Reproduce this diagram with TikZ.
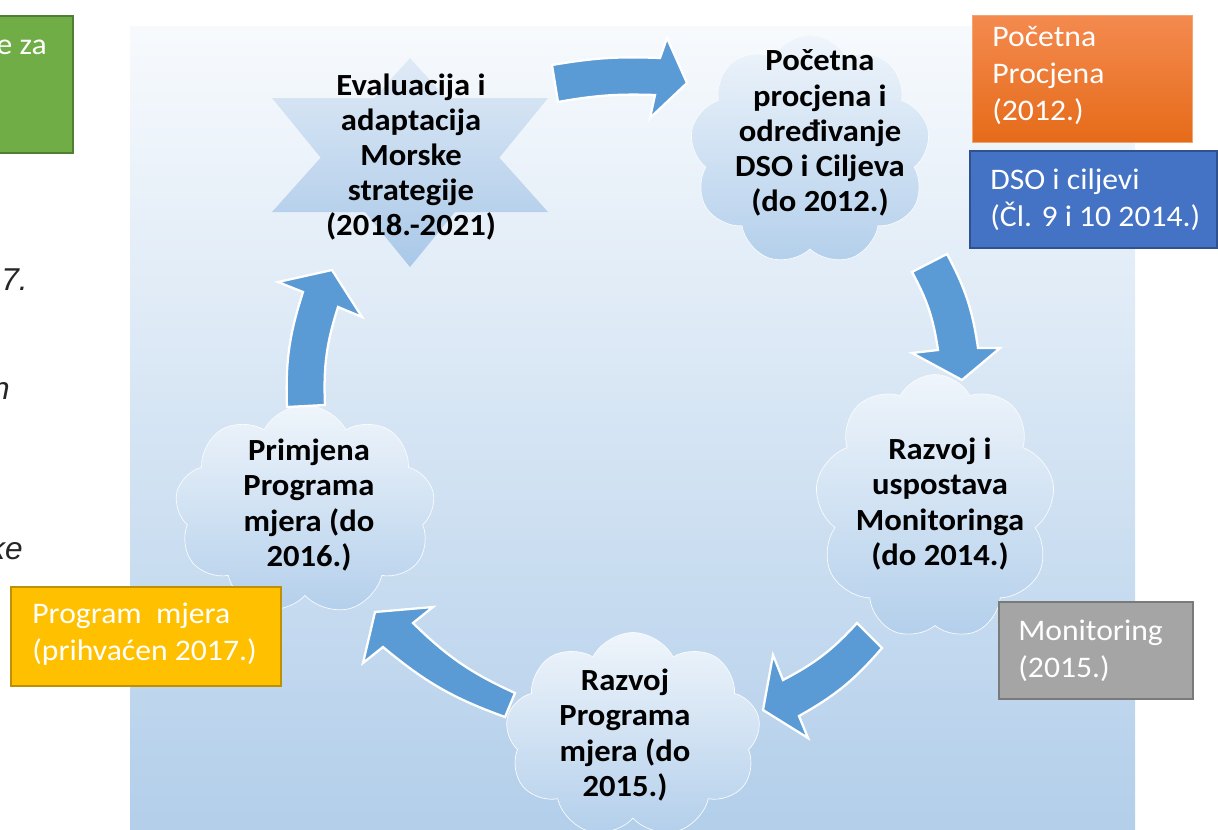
\documentclass[tikz,border=0pt]{standalone}
\usepackage{fontspec}
\setmainfont{Carlito}[FakeStretch=1.06]
\newfontfamily\arialfont{Liberation Sans}
\usetikzlibrary{shapes.symbols,positioning}

\definecolor{bgtop}{HTML}{F7FAFD}
\definecolor{bgbot}{HTML}{B2CEEA}
\definecolor{cloudtop}{HTML}{EFF5FB}
\definecolor{cloudbot}{HTML}{B3CFEB}
\definecolor{startop}{HTML}{DFEAF6}
\definecolor{starbot}{HTML}{A9C8E8}
\definecolor{arrowblue}{HTML}{5B9BD5}
\definecolor{otop}{HTML}{F48A4F}
\definecolor{obot}{HTML}{E56B19}
\definecolor{oline}{HTML}{F4A473}
\definecolor{dsoblue}{HTML}{4472C4}
\definecolor{dsoline}{HTML}{2F528F}
\definecolor{mgrey}{HTML}{A5A5A5}
\definecolor{mline}{HTML}{7A7A7A}
\definecolor{pyellow}{HTML}{FFC000}
\definecolor{pline}{HTML}{BF9000}
\definecolor{sgreen}{HTML}{70AD47}
\definecolor{sline}{HTML}{507E32}

\tikzset{
	cloudbox/.style={cloud, cloud puffs=9, cloud puff arc=125, aspect=1, inner sep=0pt,
		top color=cloudtop, bottom color=cloudbot, draw=white!60!cloudtop, line width=0.4pt},
	cloudtext/.style={font=\bfseries\fontsize{17.5}{20}\selectfont, align=center, inner sep=0pt},
	blockarrow/.style={fill=arrowblue, draw=white, line width=1.3pt, line join=miter},
	colbox/.style={rectangle, anchor=north west, inner sep=0pt, line width=1.2pt},
	boxtext/.style={font=\fontsize{17}{21}\selectfont, text=white, align=left, anchor=west, inner sep=0pt},
	cuttext/.style={font=\arialfont\itshape\fontsize{18}{21}\selectfont, text=black!85, anchor=east, inner sep=0pt}
}

\begin{document}
\begin{tikzpicture}[x=0.02cm,y=-0.02cm]
	\useasboundingbox (0,0) rectangle (1218,829);
	\clip (0,0) rectangle (1218,829);
	% background panel
	\shade[top color=bgtop, bottom color=bgbot] (130,26) rectangle (1135,840);

	% clouds of the cycle
	\node[cloudbox, minimum width=4.8cm, minimum height=4.6cm] (initcloud) at (810,150) {};
	\node[cloudbox, minimum width=4.8cm, minimum height=5.3cm] (moncloud) at (935,507) {};
	\node[cloudbox, minimum width=5.1cm, minimum height=4.1cm] (progcloud) at (633,735) {};
	\node[cloudbox, minimum width=5.2cm, minimum height=4.2cm] (implcloud) at (305,510) {};

	% six-pointed star
	\shade[top color=startop, bottom color=starbot]
		(410,58) -- (548,212) -- (272,212) -- cycle
		(410,267) -- (272,98) -- (548,98) -- cycle;

	% curved block arrows
	\draw[blockarrow] (552,65) to[bend left=6] (660,58) -- (667,38) -- (687,83) -- (650,118)
		-- (655,95) to[bend right=6] (558,102) -- cycle;
	\draw[blockarrow] (912,272) to[bend left=10] (938,350) -- (912,353) -- (962,380) -- (1000,348)
		-- (978,348) to[bend right=10] (947,254) -- cycle;
	\draw[blockarrow] (857,623) to[bend left=10] (783,680) -- (773,655) -- (763,710) -- (808,738)
		-- (799,716) to[bend right=10] (882,648) -- cycle;
	\draw[blockarrow] (515,693) to[bend left=10] (413,623) -- (433,607) -- (375,612) -- (363,663)
		-- (383,647) to[bend right=10] (505,717) -- cycle;
	\draw[blockarrow] (325,405) to[bend left=10] (338,307) -- (362,317) -- (332,270) -- (278,282)
		-- (303,292) to[bend right=10] (287,407) -- cycle;

	% texts of the cycle
	\node[cloudtext] (evaltxt) at (411,157) {Evaluacija i\\adaptacija\\Morske\\strategije\\(2018.-2021)};
	\node[cloudtext] (inittxt) at (820,133) {Početna\\procjena i\\određivanje\\DSO i Ciljeva\\(do 2012.)};
	\node[cloudtext] (montxt) at (940,504) {Razvoj i\\uspostava\\Monitoringa\\(do 2014.)};
	\node[cloudtext] (progtxt) at (625,735) {Razvoj\\Programa\\mjera (do\\2015.)};
	\node[cloudtext] (impltxt) at (309,505) {Primjena\\Programa\\mjera (do\\2016.)};

	% coloured boxes
	\node[colbox, fill=sgreen, draw=sline, minimum width=2.4cm, minimum height=2.74cm] (greenbox) at (-48,15) {};
	\node[boxtext, anchor=east] (greentxt) at (47,47) {e za};
	\node[colbox, top color=otop, bottom color=obot, draw=oline, line width=0.6pt,
		minimum width=4.4cm, minimum height=2.54cm] (initbox) at (972,15) {};
	\node[boxtext] (initboxtxt) at ([xshift=0.4cm,yshift=0.07cm]initbox.west) {Početna\\Procjena\\(2012.)};
	\node[colbox, fill=dsoblue, draw=dsoline, minimum width=4.94cm, minimum height=1.94cm] (dsobox) at (969,150) {};
	\node[boxtext] (dsoboxtxt) at ([xshift=0.42cm]dsobox.west) {DSO i ciljevi\\(Čl. 9 i 10 2014.)};
	\node[colbox, fill=mgrey, draw=mline, minimum width=3.88cm, minimum height=1.94cm] (monbox) at (998,601) {};
	\node[boxtext] (monboxtxt) at ([xshift=0.4cm]monbox.west) {Monitoring\\(2015.)};
	\node[colbox, fill=pyellow, draw=pline, minimum width=5.4cm, minimum height=1.98cm] (progbox) at (10,586) {};
	\node[boxtext] (progboxtxt) at ([xshift=0.44cm,yshift=0.05cm]progbox.west) {Program\ \ mjera\\(prihvaćen 2017.)};

	% cut-off text at the left edge
	\node[cuttext] (cutA) at (28,280) {7.};
	\node[cuttext] (cutB) at (10,391) {n};
	\node[cuttext] (cutC) at (23,548) {ke};
\end{tikzpicture}
\end{document}
